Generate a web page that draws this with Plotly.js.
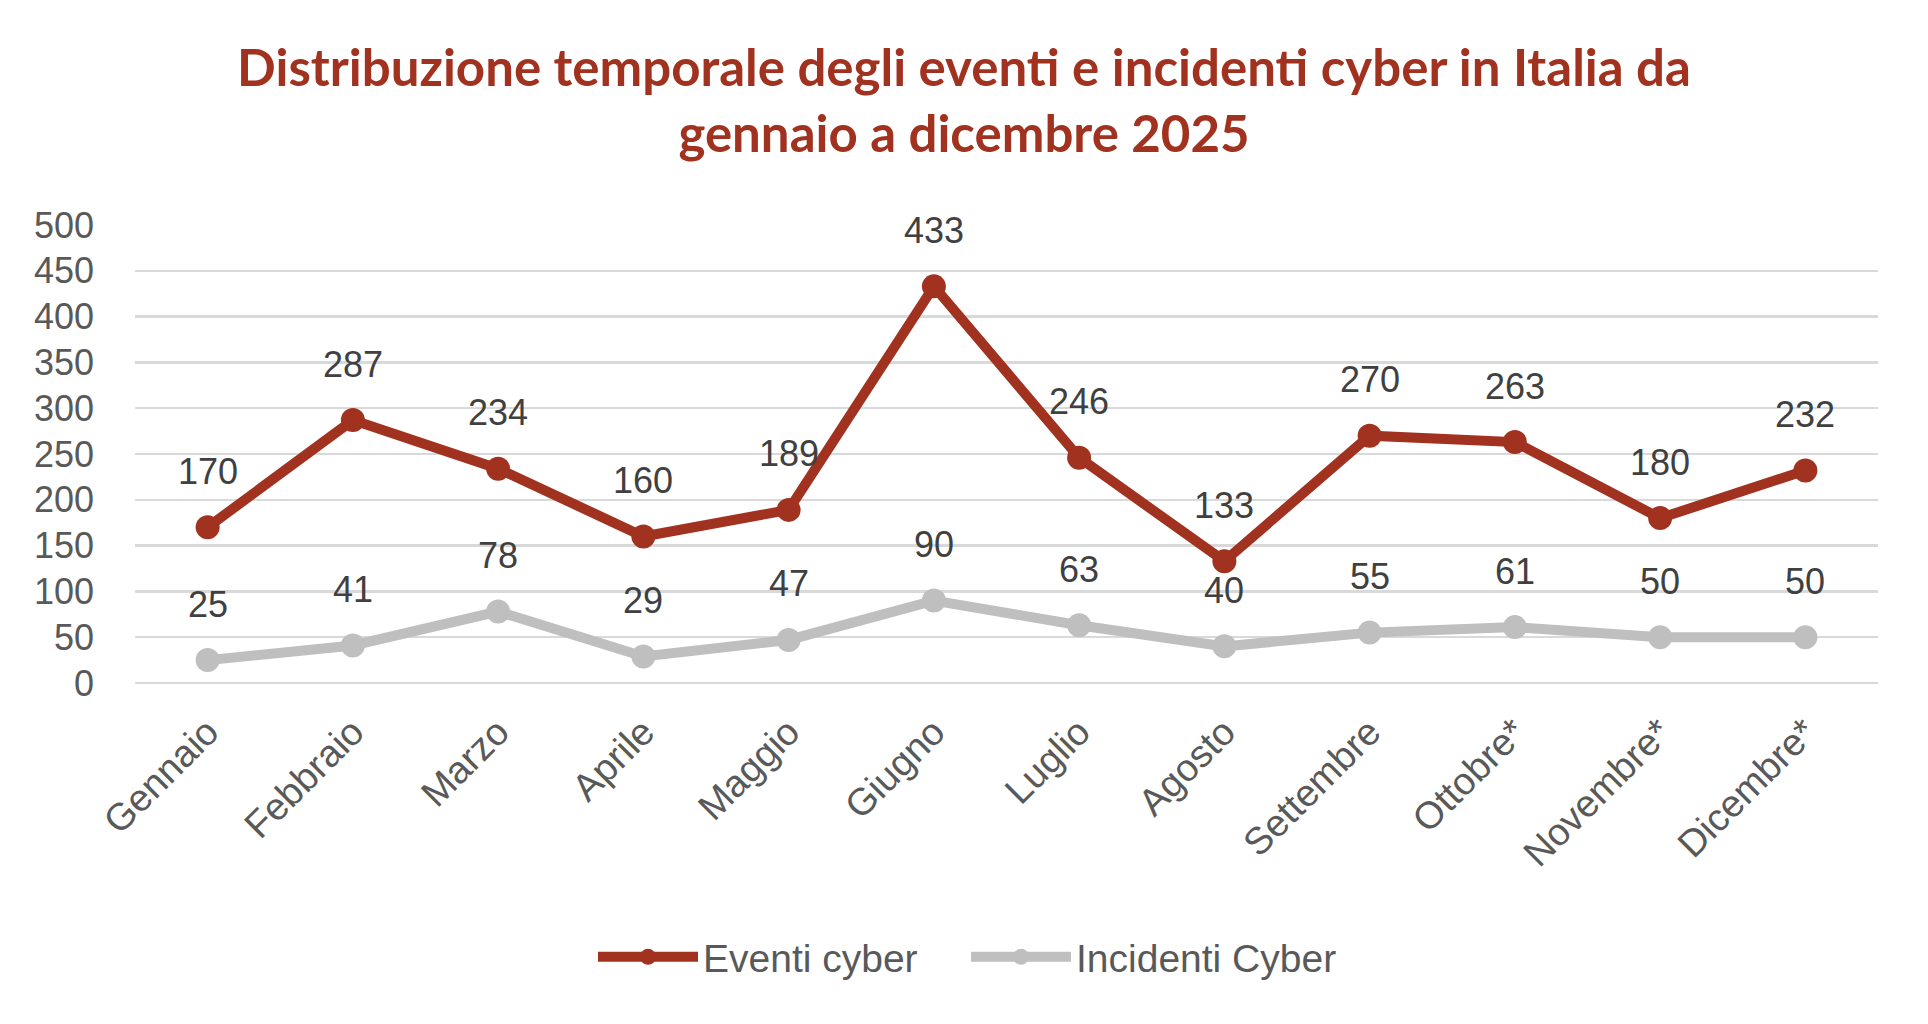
<!DOCTYPE html>
<html>
<head>
<meta charset="utf-8">
<script src="https://cdn.plot.ly/plotly-3.0.1.min.js"></script>
<style>html,body{margin:0;padding:0;background:#fff;}#chart{width:1928px;height:1024px;}</style>
</head>
<body>
<div id="chart"></div>
<script>
const months = ["Gennaio","Febbraio","Marzo","Aprile","Maggio","Giugno","Luglio","Agosto","Settembre","Ottobre*","Novembre*","Dicembre*"];
const eventiCyber = [170,287,234,160,189,433,246,133,270,263,180,232];
const incidentiCyber = [25,41,78,29,47,90,63,40,55,61,50,50];
const yTicks = [0,50,100,150,200,250,300,350,400,450,500];

const RED = "#A23220";
const GREY = "#BFBFBF";

const traces = [
  {x: months, y: eventiCyber, name: "Eventi cyber", type: "scatter", mode: "lines+markers",
   line: {color: RED, width: 10}, marker: {color: RED, size: 24}, hoverinfo: "skip"},
  {x: months, y: incidentiCyber, name: "Incidenti Cyber", type: "scatter", mode: "lines+markers",
   line: {color: GREY, width: 10}, marker: {color: GREY, size: 24}, hoverinfo: "skip"}
];

const labelFont = {family: "Liberation Sans, Arial, sans-serif", size: 36, color: "#404040"};
const annotations = [];
[eventiCyber, incidentiCyber].forEach(series => {
  series.forEach((v, i) => {
    annotations.push({x: months[i], y: v, xref: "x", yref: "y", text: String(v),
      showarrow: false, yshift: 56, font: labelFont});
  });
});

const layout = {
  width: 1928, height: 1024,
  paper_bgcolor: "#ffffff", plot_bgcolor: "#ffffff",
  margin: {l: 135, r: 50, t: 225, b: 341},
  title: {
    text: "Distribuzione temporale degli eventi e incidenti cyber in Italia da<br>gennaio a dicembre 2025",
    font: {family: "Lato, Open Sans, sans-serif", size: 51, color: RED, weight: "bold"},
    x: 0.5, xref: "container", xanchor: "center",
    y: 1 - 86/1024, yref: "container", yanchor: "top"
  },
  xaxis: {
    type: "category", range: [-0.5, 11.5], showgrid: false, zeroline: false, showline: false,
    tickangle: -45, ticks: "", ticklabelstandoff: 18,
    tickfont: {family: "Liberation Sans, Arial, sans-serif", size: 38, color: "#595959"}
  },
  yaxis: {
    range: [0, 500], tickvals: yTicks, ticktext: yTicks.map(String),
    showgrid: true, gridcolor: "#D9D9D9", gridwidth: 2.5,
    zeroline: true, zerolinecolor: "#D9D9D9", zerolinewidth: 2.5, showline: false,
    ticks: "", ticklabelstandoff: 40,
    tickfont: {family: "Liberation Sans, Arial, sans-serif", size: 36, color: "#595959"}
  },
  showlegend: true,
  legend: {
    orientation: "h", xref: "container", yref: "container",
    x: 966/1928, xanchor: "center", y: 1 - 957/1024, yanchor: "middle",
    itemwidth: 100, entrywidth: 258, entrywidthmode: "pixels", traceorder: "normal",
    font: {family: "Liberation Sans, Arial, sans-serif", size: 39, color: "#595959"}
  },
  annotations: annotations
};

Plotly.newPlot("chart", traces, layout, {displayModeBar: false, staticPlot: true});
</script>
</body>
</html>
